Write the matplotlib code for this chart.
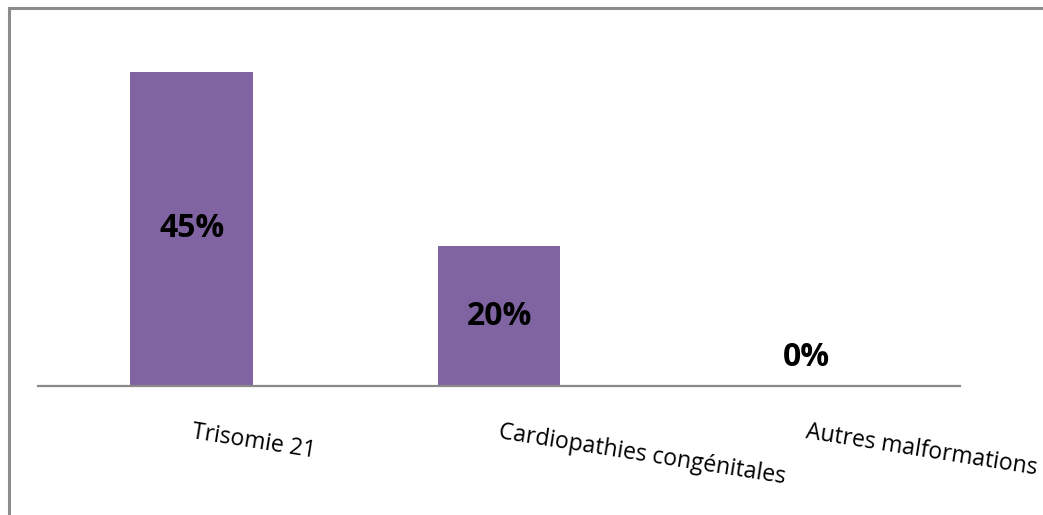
import numpy as np
import matplotlib.pyplot as plt
from matplotlib.patches import Rectangle

categories = ['Trisomie 21', 'Cardiopathies congénitales', 'Autres malformations']
values = [45, 20, 0]          # in percent
value_labels = ['45%', '20%', '0%']

plt.rcParams['font.family'] = ['Open Sans', 'DejaVu Sans']

fig = plt.figure(figsize=(10.43, 5.15), dpi=100)
# Chart area frame (grey border, top and left visible)
fig.patches.append(Rectangle((9/1043, -0.1), 1.2, (515-8)/515 + 0.1, transform=fig.transFigure,
                             fill=False, edgecolor='#8c8c8c', linewidth=2.2))

ax = fig.add_axes([38/1043, (515-386)/515, (960-38)/1043, 349/515])
x = np.arange(len(categories))
ax.bar(x, np.array(values)/100, width=0.4, color='#8064A2')
ax.set_xlim(-0.5, 2.5)
ax.set_ylim(0, 0.5)

for s in ['top', 'left', 'right']:
    ax.spines[s].set_visible(False)
ax.spines['bottom'].set_color('#898989')
ax.spines['bottom'].set_linewidth(1.6)
ax.set_yticks([])
ax.set_xticks([])

# Value labels: centred in the bar, or just above the axis for empty bars
for xi, v, lab in zip(x, values, value_labels):
    y = v/200 if v > 0 else 0.041
    ax.text(xi, y, lab, ha='center', va='center', fontsize=23, fontweight='bold', color='black')

# Slanted category labels starting at each bar centre
for xi, cat in zip(x, categories):
    ax.text(xi, -0.066, cat, ha='left', va='center', rotation=-9, rotation_mode='anchor',
            fontsize=16.6, color='black', transform=ax.transData, clip_on=False)

fig.savefig('out.png', dpi=100)
